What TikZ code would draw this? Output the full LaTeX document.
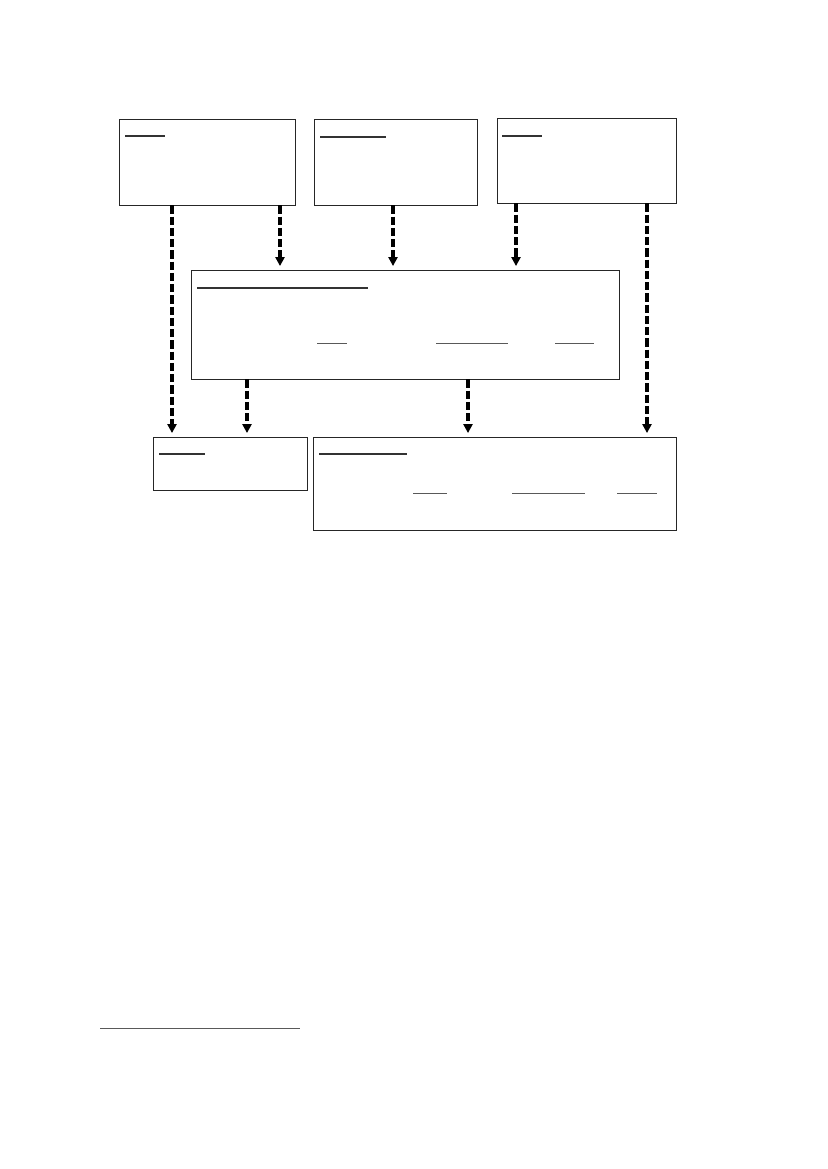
\documentclass[tikz,border=0pt]{standalone}
\usetikzlibrary{arrows.meta,fit}
\begin{document}
\begin{tikzpicture}[x=0.72pt,y=-0.72pt,
  box/.style={draw=black!85,line width=0.65pt,inner sep=0pt,fit=#1},
  uline/.style={draw=black!80,line width=0.9pt},
  thinline/.style={draw=black!65,line width=0.7pt},
  arr/.style={draw=black,line width=2.2pt,dash pattern=on 5.8pt off 2.3pt,
    -{Triangle[width=6.4pt,length=6.4pt]},shorten >=2.5pt},
]
\useasboundingbox (0,0) rectangle (827,1169);
% boxes
\coordinate (a1) at (119,119); \coordinate (a2) at (295,205);
\node[box={(a1)(a2)}] (A) {};
\coordinate (b1) at (314,119); \coordinate (b2) at (477,205);
\node[box={(b1)(b2)}] (B) {};
\coordinate (c1) at (497,118); \coordinate (c2) at (676,203);
\node[box={(c1)(c2)}] (C) {};
\coordinate (d1) at (191,270); \coordinate (d2) at (619,379);
\node[box={(d1)(d2)}] (D) {};
\coordinate (e1) at (153,437); \coordinate (e2) at (307,490);
\node[box={(e1)(e2)}] (E) {};
\coordinate (f1) at (313,437); \coordinate (f2) at (676,530);
\node[box={(f1)(f2)}] (F) {};
% underlines (headings without visible text)
\draw[uline] (125,136) -- (165,136);
\draw[uline] (320,137) -- (386,137);
\draw[uline] (502,136) -- (542,136);
\draw[uline] (197,288) -- (368,288);
\draw[thinline] (317,343) -- (347,343);
\draw[thinline] (436,343) -- (508,343);
\draw[thinline] (555,343) -- (594,343);
\draw[uline] (159,454) -- (205,454);
\draw[uline] (319,454) -- (407,454);
\draw[thinline] (413,493) -- (447,493);
\draw[thinline] (512,493) -- (585,493);
\draw[thinline] (617,493) -- (657,493);
% footnote rule
\draw[thinline] (100,1028) -- (300,1028);
% connectors
\draw[arr] (A.south -| 172,0) -- (E.north -| 172,0);
\draw[arr] (A.south -| 280,0) -- (D.north -| 280,0);
\draw[arr] (B.south -| 393,0) -- (D.north -| 393,0);
\draw[arr] (C.south -| 516,0) -- (D.north -| 516,0);
\draw[arr] (C.south -| 647,0) -- (F.north -| 647,0);
\draw[arr] (D.south -| 247,0) -- (E.north -| 247,0);
\draw[arr] (D.south -| 468,0) -- (F.north -| 468,0);
\end{tikzpicture}
\end{document}
